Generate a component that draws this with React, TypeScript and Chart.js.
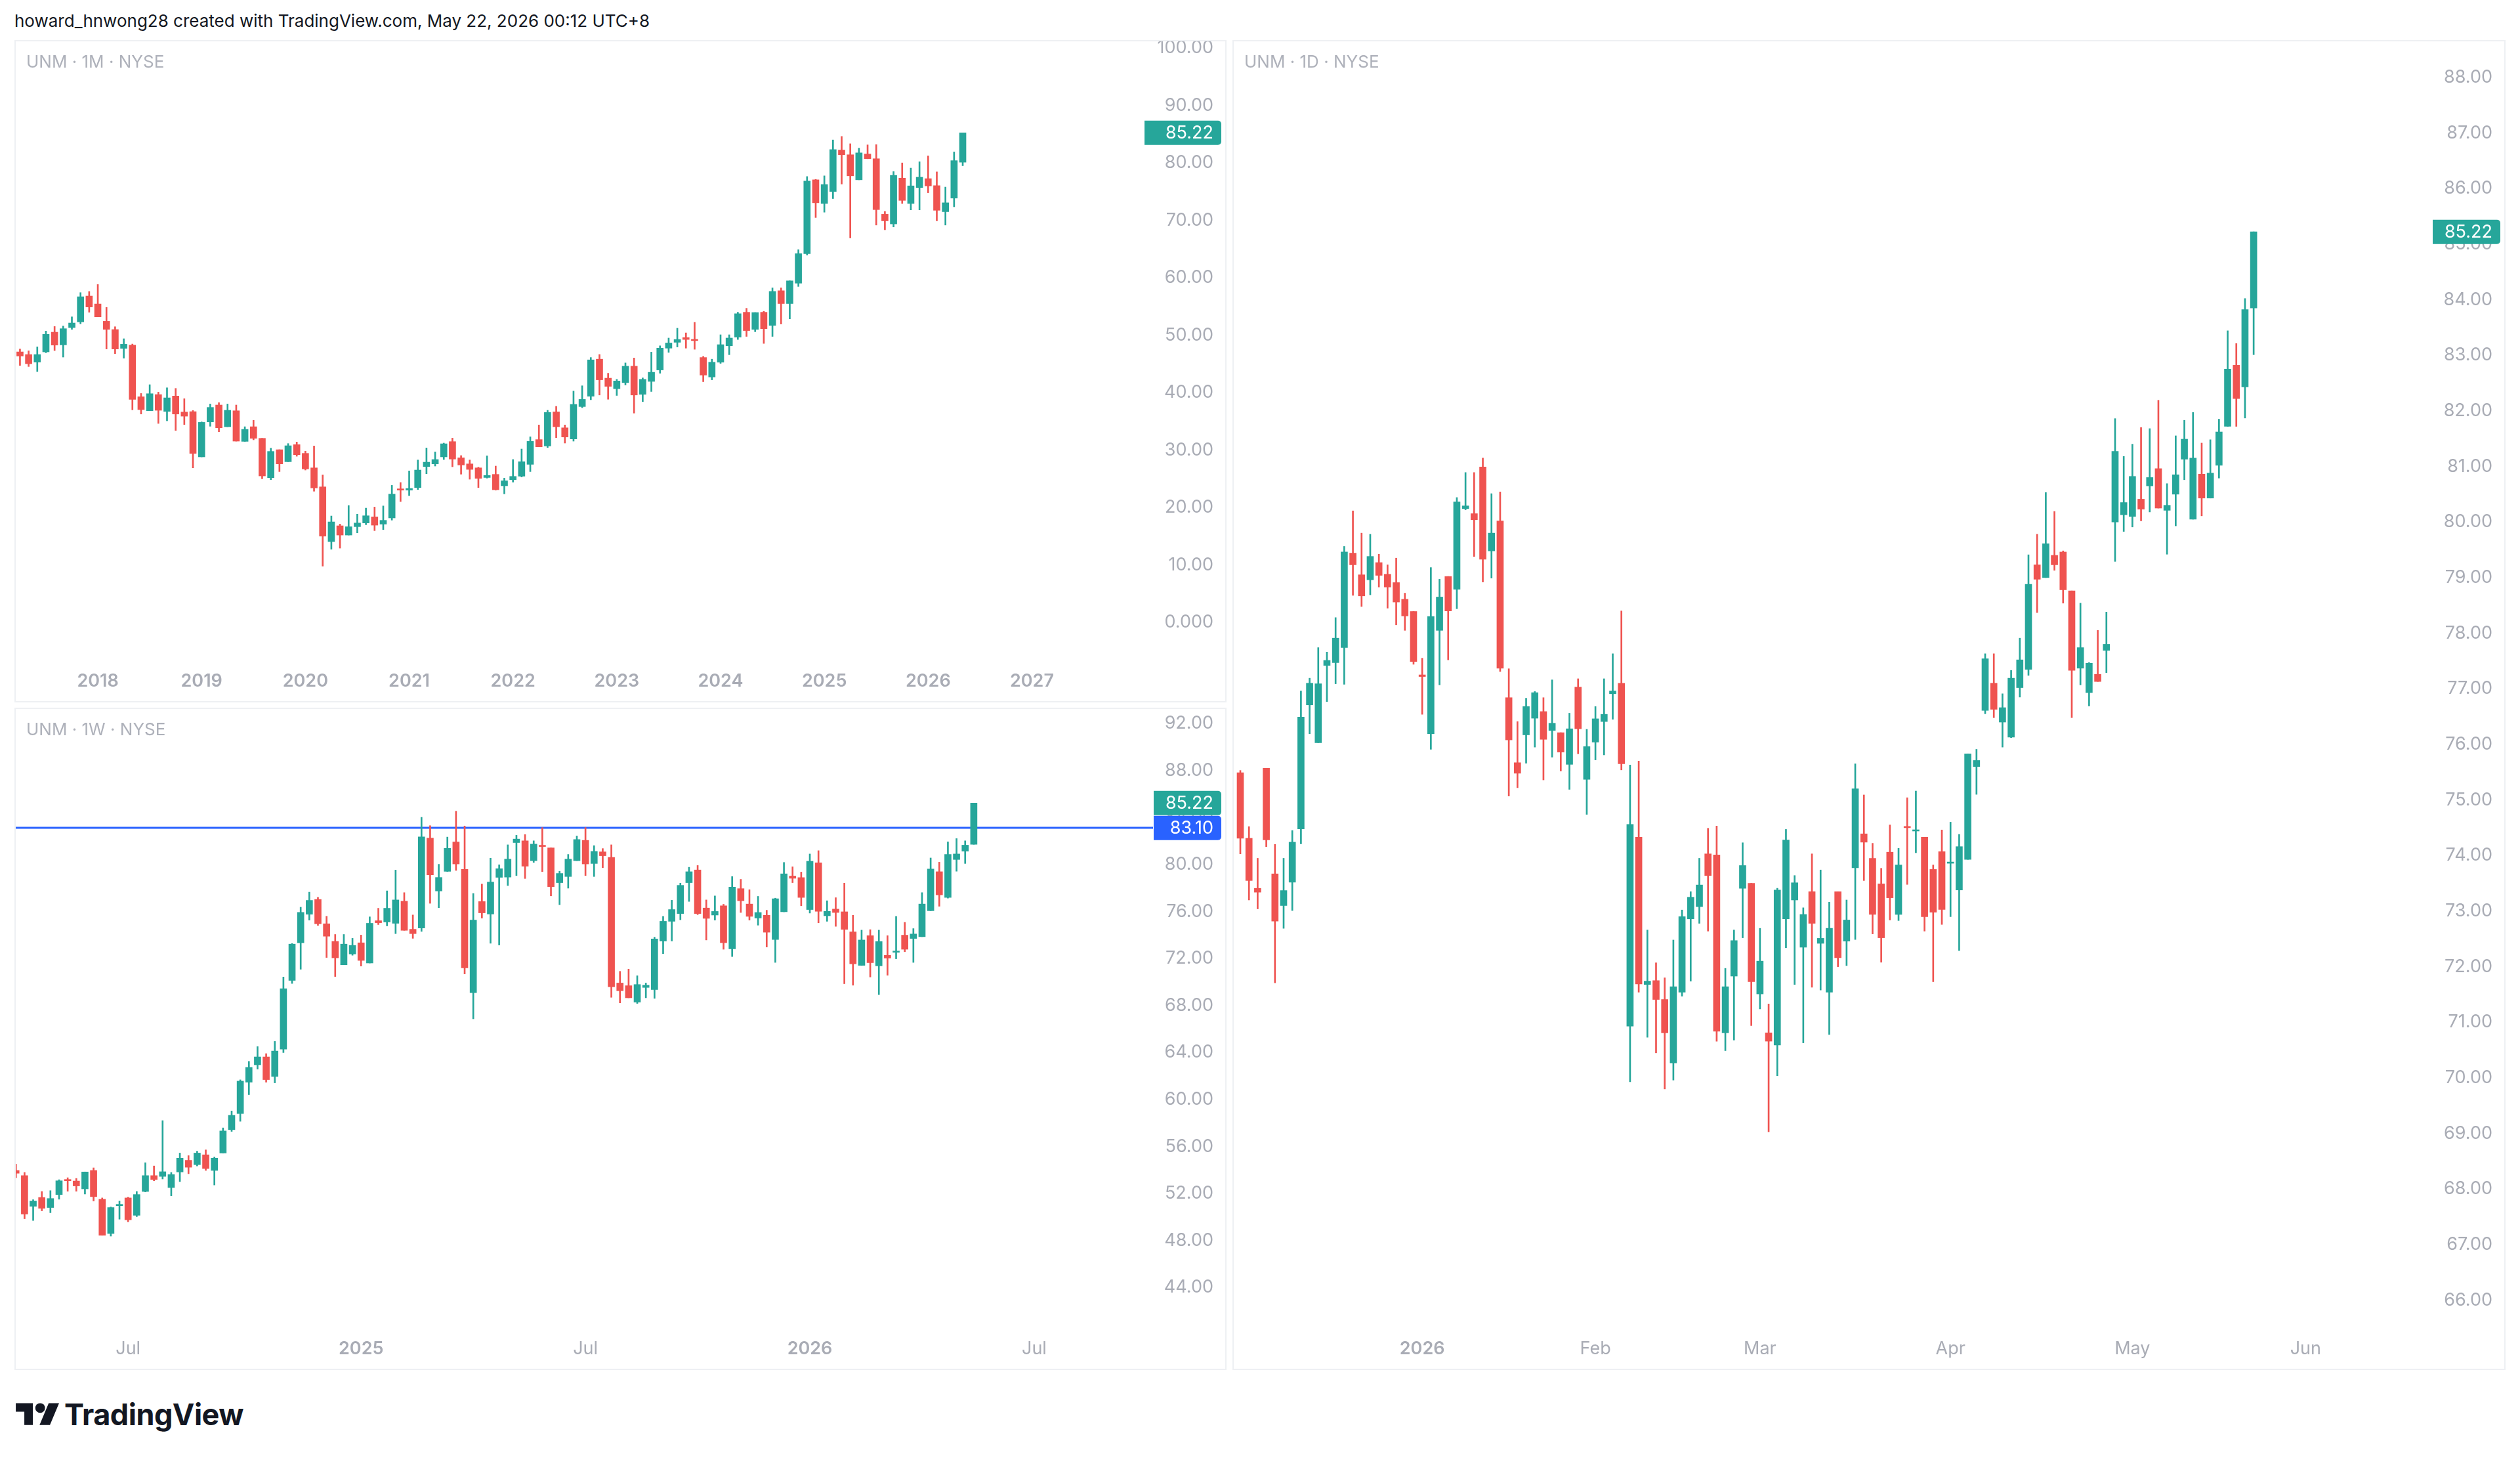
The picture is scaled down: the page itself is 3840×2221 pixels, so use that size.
import React, { useEffect, useRef } from 'react';
import { Chart, registerables } from 'chart.js';

Chart.register(...registerables);

const FONT = 'Inter, "Noto Sans", "DejaVu Sans", sans-serif';
const UP = '#26a69a';
const DOWN = '#ef5350';
const LINE_BLUE = '#2962ff';
const AXIS_TEXT = '#a9acb5';
const TICK_SIZE = 27;
const RIGHT_GAP = 20;

// ---------------- Monthly (Apr 2017 .. May 2026) ----------------
const monthlyOpen = [47.08, 46.62, 45.29, 47.08, 50.51, 48.3, 51.31, 52.3, 56.8, 55.42, 52.41, 50.97, 47.69, 48.26, 39.27, 36.83, 39.65, 36.72, 39.39, 36.61, 36.68, 28.8, 34.89, 37.83, 34.05, 36.83, 31.5, 34.05, 32.03, 25.18, 30.05, 27.96, 30.93, 29.41, 26.89, 23.58, 14.05, 16.8, 15.19, 16.65, 17.29, 18.36, 17.1, 18.17, 23.12, 23.01, 23.46, 27.12, 27.58, 28.8, 31.46, 28.64, 27.58, 26.89, 25.21, 25.75, 23.77, 24.83, 25.44, 27.5, 31.81, 30.7, 36.64, 33.86, 31.92, 37.56, 39.36, 45.81, 42.51, 40.67, 41.73, 44.59, 39.69, 41.94, 43.93, 47.73, 48.75, 49.57, 49.24, 46.1, 42.71, 45.28, 48.14, 49.65, 53.98, 50.99, 53.98, 51.69, 57.73, 55.49, 59.04, 64.18, 77.04, 72.91, 75.0, 82.22, 81.4, 77.04, 81.53, 80.71, 71.04, 69.36, 77.33, 72.91, 75.69, 77.24, 76.02, 71.49, 73.85, 80.1];
const monthlyHigh = [47.58, 47.27, 47.96, 50.7, 51.5, 51.58, 53.18, 57.4, 57.6, 58.81, 54.82, 51.46, 49.37, 48.45, 39.84, 41.37, 40.07, 40.83, 40.72, 38.93, 36.87, 34.89, 38.01, 38.24, 38.01, 37.83, 34.05, 35.16, 32.03, 30.32, 30.05, 31.12, 31.39, 29.79, 30.7, 25.67, 18.51, 17.1, 20.34, 18.82, 19.88, 20.07, 20.26, 23.84, 24.34, 26.36, 28.26, 30.36, 29.67, 31.2, 32.07, 29.03, 28.26, 27.01, 28.99, 27.2, 25.1, 28.34, 30.17, 32.3, 34.36, 36.91, 37.6, 34.36, 40.26, 41.18, 46.1, 46.63, 43.36, 42.3, 45.16, 46.02, 42.55, 47.04, 48.14, 49.49, 51.2, 50.39, 52.22, 46.3, 45.81, 50.06, 50.06, 53.98, 54.67, 53.93, 54.14, 58.22, 58.22, 59.45, 64.87, 77.61, 77.12, 77.73, 83.98, 84.59, 83.32, 82.55, 83.12, 83.16, 71.53, 78.47, 79.98, 79.08, 80.18, 81.2, 78.42, 75.77, 81.89, 85.22];
const monthlyLow = [44.72, 44.53, 43.65, 46.93, 47.31, 46.17, 51.0, 51.96, 53.98, 53.18, 47.58, 46.78, 45.98, 36.99, 36.26, 36.83, 34.62, 35.08, 33.4, 34.43, 26.89, 28.8, 34.13, 33.18, 34.05, 31.54, 31.5, 31.77, 24.99, 24.83, 26.24, 27.96, 28.91, 26.51, 22.82, 9.78, 12.72, 12.91, 15.19, 15.58, 16.99, 15.96, 16.15, 17.79, 21.02, 22.06, 23.12, 25.86, 27.2, 28.34, 27.08, 25.79, 24.91, 23.46, 25.1, 23.01, 22.36, 24.41, 25.29, 26.24, 30.55, 30.43, 32.15, 31.2, 31.54, 37.37, 38.75, 39.57, 38.83, 39.49, 41.32, 36.42, 38.42, 40.18, 43.36, 46.99, 47.93, 47.73, 47.53, 41.89, 42.22, 45.08, 46.59, 49.24, 49.77, 50.59, 48.55, 49.77, 51.93, 52.83, 58.47, 63.93, 70.47, 71.4, 73.77, 76.3, 66.91, 77.04, 80.71, 69.16, 68.34, 68.83, 72.91, 71.81, 71.81, 74.79, 69.89, 69.16, 72.34, 79.49];
const monthlyClose = [46.36, 45.02, 46.62, 50.13, 48.26, 51.12, 52.11, 56.68, 54.89, 53.18, 51.0, 47.58, 48.41, 38.81, 37.03, 39.8, 36.91, 39.08, 36.26, 35.88, 29.41, 34.81, 37.41, 33.86, 36.91, 31.54, 33.59, 32.03, 25.48, 29.75, 27.58, 30.74, 29.18, 26.7, 23.39, 15.0, 17.48, 15.19, 16.65, 17.29, 18.55, 16.91, 17.75, 22.32, 23.01, 23.31, 26.51, 27.88, 28.34, 31.08, 28.42, 27.39, 26.62, 25.06, 25.56, 23.08, 24.64, 25.4, 27.96, 31.5, 30.55, 36.53, 34.05, 32.26, 37.94, 38.81, 45.69, 42.22, 41.08, 42.02, 44.59, 39.57, 42.3, 43.53, 47.73, 48.63, 49.24, 49.24, 49.04, 43.04, 45.28, 48.34, 49.49, 53.73, 50.79, 53.93, 51.12, 57.61, 55.49, 59.45, 64.18, 76.83, 73.04, 76.22, 82.3, 81.4, 77.73, 81.73, 80.71, 71.85, 69.89, 77.81, 73.45, 75.98, 77.49, 75.98, 71.73, 73.04, 80.38, 85.22];
const monthlyTimeTickIdx = [9, 21, 33, 45, 57, 69, 81, 93, 105, 117];
const monthlyTimeTickLabels = ['2018', '2019', '2020', '2021', '2022', '2023', '2024', '2025', '2026', '2027'];
const monthlyPriceTicks = [0, 10, 20, 30, 40, 50, 60, 70, 80, 90, 100];

// ---------------- Weekly (Apr 2024 .. May 2026) ----------------
const weeklyOpen = [53.96, 53.52, 50.91, 51.66, 50.8, 51.91, 53.17, 53.06, 52.39, 53.96, 51.51, 48.59, 50.96, 51.62, 50.14, 52.17, 53.52, 53.45, 52.5, 53.83, 54.82, 54.45, 55.29, 53.96, 55.44, 57.43, 58.8, 61.47, 62.95, 63.62, 61.96, 64.28, 70.13, 73.33, 75.76, 77.02, 74.95, 73.45, 71.46, 72.38, 73.33, 71.61, 75.21, 75.1, 74.99, 76.87, 74.48, 74.59, 82.24, 77.74, 79.41, 81.91, 79.58, 69.09, 76.84, 75.78, 78.9, 78.92, 81.86, 82.01, 80.32, 81.6, 81.41, 78.45, 78.97, 80.32, 82.05, 80.08, 81.07, 80.6, 69.91, 69.68, 68.28, 69.53, 69.35, 73.48, 75.16, 75.82, 78.45, 79.53, 76.29, 75.69, 76.48, 72.82, 77.94, 76.63, 75.44, 75.67, 73.61, 75.97, 79.01, 78.88, 76.16, 80.14, 75.63, 76.2, 75.97, 74.26, 71.41, 73.94, 71.37, 72.26, 72.52, 73.98, 73.7, 73.85, 76.06, 79.38, 77.19, 80.42, 81.13, 81.71];
const weeklyHigh = [54.49, 53.79, 51.47, 52.17, 52.24, 53.17, 53.34, 53.28, 53.83, 54.18, 51.62, 50.85, 51.36, 51.69, 52.17, 54.62, 54.34, 58.2, 53.79, 55.44, 55.22, 55.6, 55.71, 55.11, 57.58, 59.02, 61.67, 63.24, 64.5, 63.9, 64.94, 70.42, 73.27, 76.36, 77.64, 77.2, 75.59, 74.04, 74.04, 73.71, 73.99, 75.54, 76.27, 77.75, 79.52, 77.6, 75.7, 84.01, 83.3, 80.01, 82.33, 84.53, 83.27, 77.53, 78.33, 80.53, 79.97, 81.67, 82.48, 82.54, 82.01, 83.14, 81.41, 79.42, 80.85, 82.42, 83.14, 81.6, 81.35, 81.67, 70.9, 71.09, 70.53, 69.91, 73.81, 75.58, 76.95, 78.41, 79.76, 79.91, 76.98, 77.32, 76.61, 78.97, 78.73, 77.85, 77.28, 76.1, 77.13, 80.17, 79.8, 79.35, 80.89, 81.17, 76.91, 77.17, 78.41, 75.67, 74.41, 74.45, 74.41, 73.94, 75.58, 75.07, 74.54, 77.6, 80.55, 80.19, 81.92, 82.2, 82.01, 85.22];
const weeklyLow = [53.34, 49.85, 49.7, 50.52, 50.36, 51.51, 52.19, 52.19, 51.95, 51.36, 48.44, 48.37, 49.81, 49.59, 50.03, 52.13, 53.08, 53.23, 51.8, 53.01, 53.68, 54.34, 53.96, 52.72, 55.44, 57.28, 58.14, 60.41, 62.58, 61.47, 61.41, 63.99, 69.87, 71.08, 75.26, 74.81, 72.08, 70.46, 71.46, 72.27, 71.35, 71.61, 74.88, 74.77, 74.11, 74.39, 73.71, 74.3, 76.69, 76.32, 79.4, 79.49, 70.68, 66.86, 75.43, 73.29, 73.14, 78.2, 79.05, 78.8, 80.17, 79.39, 77.32, 76.57, 77.98, 80.32, 79.05, 78.97, 79.72, 68.69, 68.22, 68.65, 68.17, 68.65, 68.6, 72.41, 73.48, 75.29, 76.85, 75.73, 73.57, 75.26, 72.78, 72.16, 75.91, 75.26, 74.83, 72.97, 71.66, 75.97, 78.45, 76.48, 75.86, 75.03, 75.16, 74.73, 69.85, 69.72, 71.41, 70.42, 68.92, 70.57, 71.97, 72.57, 71.66, 73.85, 76.06, 76.44, 77.13, 79.42, 80.08, 81.71];
const weeklyClose = [53.72, 50.25, 51.36, 50.74, 51.57, 53.08, 53.08, 52.64, 53.83, 51.73, 48.44, 50.8, 51.05, 49.76, 51.91, 53.52, 53.19, 53.85, 53.61, 55.0, 54.23, 55.44, 54.12, 55.0, 57.32, 58.65, 61.56, 62.73, 63.62, 61.69, 64.12, 69.43, 73.22, 75.92, 76.94, 74.95, 73.89, 72.05, 73.22, 73.11, 71.83, 74.99, 75.04, 76.27, 76.98, 74.39, 74.11, 82.34, 79.11, 78.89, 81.37, 80.04, 71.19, 75.26, 75.88, 78.5, 79.64, 80.45, 82.16, 79.85, 81.73, 81.52, 78.11, 79.23, 80.45, 82.12, 80.04, 81.11, 80.74, 69.59, 69.25, 68.65, 69.78, 69.72, 73.66, 75.16, 76.16, 78.22, 79.38, 75.82, 75.41, 76.0, 73.34, 78.07, 76.91, 75.58, 75.91, 74.23, 77.08, 79.2, 78.82, 77.19, 80.27, 76.01, 76.01, 75.91, 74.47, 71.54, 73.57, 71.64, 73.44, 72.03, 72.54, 72.78, 74.08, 76.63, 79.61, 77.41, 80.85, 80.89, 81.64, 85.22];
const weeklyLineLevel = 83.1;
const weeklyTimeTickIdx = [13, 40, 66, 92, 118];
const weeklyTimeTickLabels = ['Jul', '2025', 'Jul', '2026', 'Jul'];
const weeklyPriceTicks = [44, 48, 52, 56, 60, 64, 68, 72, 76, 80, 84, 88, 92];

// ---------------- Daily (Dec 2025 .. May 21 2026) ----------------
const dailyOpen = [75.49, 74.31, 73.41, 75.57, 73.67, 73.1, 73.52, 74.48, 76.71, 76.03, 77.42, 77.47, 77.74, 79.44, 79.05, 78.96, 79.27, 79.06, 78.91, 78.61, 78.39, 77.25, 76.19, 78.05, 79.02, 78.79, 80.24, 80.15, 80.99, 79.48, 80.02, 76.84, 75.67, 76.17, 76.47, 76.59, 76.25, 76.21, 75.64, 77.03, 75.37, 76.04, 76.41, 76.91, 77.1, 70.93, 74.33, 71.68, 71.75, 71.41, 70.27, 71.54, 72.86, 73.08, 74.03, 74.01, 70.81, 71.83, 73.41, 73.5, 71.51, 70.81, 70.59, 72.86, 73.2, 72.35, 73.35, 72.42, 71.54, 73.35, 72.46, 73.78, 74.39, 73.95, 73.49, 74.06, 72.94, 74.52, 74.44, 74.33, 73.75, 74.07, 73.86, 73.38, 73.93, 75.6, 76.61, 77.1, 76.4, 76.13, 77.02, 77.35, 79.23, 79.0, 79.4, 79.46, 78.76, 77.37, 76.93, 77.26, 77.69, 80.0, 80.13, 80.1, 80.41, 80.65, 80.96, 80.21, 80.5, 81.13, 80.05, 80.86, 80.43, 81.02, 81.72, 82.82, 82.43, 83.85];
const dailyHigh = [75.53, 74.52, 73.95, 75.57, 74.2, 73.95, 74.45, 76.96, 77.19, 77.74, 77.66, 78.28, 79.56, 80.2, 79.8, 79.78, 79.42, 79.23, 79.35, 78.72, 78.39, 77.55, 79.18, 78.97, 79.02, 80.44, 80.89, 80.89, 81.15, 80.51, 80.54, 77.36, 76.41, 76.83, 76.95, 76.84, 77.16, 76.21, 76.56, 77.18, 76.27, 76.68, 77.18, 77.63, 78.4, 75.63, 75.7, 72.66, 72.07, 71.8, 72.48, 73.02, 73.35, 73.95, 74.49, 74.53, 71.97, 72.66, 74.23, 73.5, 72.69, 71.33, 73.41, 74.47, 73.64, 73.06, 74.03, 73.74, 73.16, 73.35, 73.2, 75.65, 75.09, 74.22, 73.77, 74.55, 74.13, 75.04, 75.16, 74.33, 73.83, 74.46, 74.6, 74.38, 75.83, 75.91, 77.63, 77.63, 76.91, 77.33, 77.91, 79.41, 79.78, 80.53, 80.19, 79.48, 78.76, 78.54, 77.47, 78.05, 78.38, 81.86, 81.18, 81.4, 81.7, 81.68, 82.19, 80.69, 81.55, 81.83, 81.97, 81.42, 81.48, 81.85, 83.44, 83.21, 84.02, 85.22];
const dailyLow = [74.03, 73.2, 73.04, 74.16, 71.71, 72.69, 73.01, 74.21, 76.19, 76.03, 76.77, 77.09, 77.08, 78.68, 78.48, 78.69, 78.83, 78.45, 78.15, 78.05, 77.44, 76.54, 75.91, 77.07, 77.52, 78.44, 80.22, 79.38, 78.92, 78.99, 77.31, 75.07, 75.22, 75.66, 75.95, 75.36, 75.77, 75.52, 75.19, 75.83, 74.74, 75.72, 75.81, 76.45, 75.54, 69.93, 71.54, 70.73, 70.45, 69.8, 69.96, 71.47, 71.74, 72.78, 72.64, 70.66, 70.49, 70.68, 72.52, 70.94, 71.24, 69.03, 70.04, 72.34, 71.68, 70.63, 71.63, 71.58, 70.78, 72.0, 72.02, 72.49, 73.55, 72.59, 72.08, 72.84, 72.83, 73.48, 74.05, 72.64, 71.73, 72.76, 72.9, 72.29, 73.93, 75.1, 76.55, 76.48, 75.95, 76.12, 76.85, 77.24, 78.37, 79.0, 79.13, 78.54, 76.48, 77.07, 76.69, 77.13, 77.29, 79.29, 79.83, 79.91, 80.02, 80.18, 80.25, 79.42, 79.93, 80.76, 80.05, 80.11, 80.43, 80.79, 81.72, 81.72, 81.87, 83.01];
const dailyClose = [74.31, 73.55, 73.34, 74.28, 72.82, 73.37, 74.24, 76.49, 77.1, 77.09, 77.51, 77.91, 79.46, 79.23, 78.67, 79.38, 79.04, 78.83, 78.56, 78.31, 77.49, 77.22, 78.3, 78.65, 78.4, 80.36, 80.29, 80.04, 79.33, 79.8, 77.37, 76.08, 75.48, 76.68, 76.93, 76.09, 76.38, 75.86, 76.28, 76.28, 75.96, 76.46, 76.54, 76.96, 75.65, 74.56, 71.69, 71.74, 71.41, 70.81, 71.64, 72.9, 73.25, 73.47, 73.64, 70.84, 71.64, 72.47, 73.82, 71.73, 72.1, 70.66, 73.38, 74.28, 73.51, 72.94, 72.78, 72.51, 72.69, 72.16, 72.84, 75.2, 74.24, 72.94, 72.52, 73.24, 73.83, 74.5, 74.46, 72.9, 72.98, 73.03, 73.88, 74.16, 75.83, 75.71, 77.54, 76.63, 76.66, 77.19, 77.52, 78.88, 78.97, 79.61, 79.23, 78.78, 77.33, 77.74, 77.46, 77.13, 77.8, 81.27, 80.35, 80.82, 80.23, 80.8, 80.25, 80.3, 80.85, 81.49, 81.15, 80.43, 80.88, 81.62, 82.75, 82.22, 83.82, 85.22];
const dailyTimeTickIdx = [21, 41, 60, 82, 103, 123];
const dailyTimeTickLabels = ['2026', 'Feb', 'Mar', 'Apr', 'May', 'Jun'];
const dailyPriceTicks = [66, 67, 68, 69, 70, 71, 72, 73, 74, 75, 76, 77, 78, 79, 80, 81, 82, 83, 84, 85, 86, 87, 88];

const fmtPrice = (v: number) => (v === 0 ? '0.000' : v.toFixed(2));

type Tag = { value: number; color: string };
type PanelProps = {
  title: string;
  left: number; top: number; width: number; height: number;
  axisWidth: number;
  xMin: number; xMax: number; yMin: number; yMax: number;
  open: number[]; high: number[]; low: number[]; close: number[];
  timeTickIdx: number[]; timeTickLabels: string[];
  priceTicks: number[];
  tags: Tag[];
  lines: Tag[];
};

function CandlePanel(p: PanelProps) {
  const ref = useRef<HTMLCanvasElement>(null);
  useEffect(() => {
    const canvas = ref.current;
    if (!canvas) return;
    const colors = p.open.map((o, i) => (p.close[i] >= o ? UP : DOWN));
    const bodies = p.open.map((o, i) => ({ x: i, y: [o, p.close[i]] }));
    const wicks = p.open.map((_, i) => ({ x: i, y: [p.low[i], p.high[i]] }));

    const overlay = {
      id: 'overlay',
      beforeDatasetsDraw(chart: any) {
        const { ctx, chartArea, scales } = chart;
        p.lines.forEach((l) => {
          const py = Math.round(scales.y.getPixelForValue(l.value));
          ctx.save();
          ctx.strokeStyle = l.color;
          ctx.lineWidth = 3;
          ctx.beginPath();
          ctx.moveTo(0, py);
          ctx.lineTo(chartArea.right, py);
          ctx.stroke();
          ctx.restore();
        });
      },
      afterDraw(chart: any) {
        const { ctx, scales } = chart;
        const y = scales.y;
        p.tags.forEach((t) => {
          const py = y.getPixelForValue(t.value);
          const x0 = y.left + 1;
          const x1 = chart.width - 8;
          const h = 37;
          ctx.save();
          ctx.fillStyle = t.color;
          ctx.beginPath();
          ctx.roundRect(x0, py - h / 2, x1 - x0, h, [0, 5, 5, 0]);
          ctx.fill();
          ctx.fillStyle = '#ffffff';
          ctx.font = `normal 400 ${TICK_SIZE}px ${FONT}`;
          ctx.textAlign = 'right';
          ctx.textBaseline = 'middle';
          ctx.fillText(fmtPrice(t.value), chart.width - RIGHT_GAP, py + 1);
          ctx.restore();
        });
      },
    };

    const chart = new Chart(canvas, {
      type: 'bar',
      data: {
        datasets: [
          { data: bodies as any, backgroundColor: colors, barThickness: 10, minBarLength: 2, grouped: false, order: 1, borderWidth: 0 },
          { data: wicks as any, backgroundColor: colors, barThickness: 2, grouped: false, order: 2, borderWidth: 0 },
        ],
      },
      options: {
        animation: false,
        responsive: false,
        events: [],
        layout: { padding: { left: 0, top: 0, bottom: 0, right: RIGHT_GAP } },
        plugins: { legend: { display: false }, tooltip: { enabled: false }, title: { display: false } },
        scales: {
          x: {
            type: 'linear',
            min: p.xMin,
            max: p.xMax,
            bounds: 'data',
            offset: false,
            grid: { display: false, drawTicks: false },
            border: { display: false },
            afterBuildTicks: (s: any) => {
              s.ticks = p.timeTickIdx.map((v) => ({ value: v }));
            },
            afterFit: (s: any) => {
              s.height = 64;
              s.paddingLeft = 0;
              s.paddingRight = 0;
            },
            ticks: {
              autoSkip: false,
              maxRotation: 0,
              minRotation: 0,
              padding: 16,
              color: AXIS_TEXT,
              font: (ctx: any) => ({
                family: FONT,
                size: TICK_SIZE,
                weight: /^\d{4}$/.test(p.timeTickLabels[ctx.index] || '') ? '600' : '400',
              }),
              callback: (_v: any, i: number) => p.timeTickLabels[i] ?? '',
            },
          },
          y: {
            type: 'linear',
            position: 'right',
            min: p.yMin,
            max: p.yMax,
            bounds: 'data',
            beginAtZero: false,
            grid: { display: false, drawTicks: false },
            border: { display: false },
            afterBuildTicks: (s: any) => {
              s.ticks = p.priceTicks.map((v) => ({ value: v }));
            },
            afterFit: (s: any) => {
              s.width = p.axisWidth - RIGHT_GAP;
              s.paddingTop = 0;
              s.paddingBottom = 0;
            },
            ticks: {
              crossAlign: 'far',
              padding: 0,
              color: AXIS_TEXT,
              font: { family: FONT, size: TICK_SIZE, weight: '400' },
              callback: (v: any) => fmtPrice(Number(v)),
            },
          },
        },
      } as any,
      plugins: [overlay],
    });
    return () => chart.destroy();
  }, []);

  return (
    <div
      style={{
        position: 'absolute',
        left: p.left,
        top: p.top,
        width: p.width,
        height: p.height,
      }}
    >
      <canvas ref={ref} width={p.width} height={p.height} style={{ width: p.width, height: p.height, display: 'block' }} />
      <div
        style={{
          position: 'absolute',
          left: 18,
          top: 17,
          fontFamily: FONT,
          fontSize: 26,
          lineHeight: '32px',
          color: '#aeb1ba',
          whiteSpace: 'nowrap',
        }}
      >
        {p.title}
      </div>
      <div
        style={{
          position: 'absolute',
          inset: 0,
          border: '2px solid #eef0f3',
          pointerEvents: 'none',
        }}
      />
    </div>
  );
}

function TvLogo() {
  return (
    <svg width={67} height={52} viewBox="0 0 36 28" style={{ position: 'absolute', left: 24, top: 2130 }}>
      <path d="M14 22H7V11H0V4h14v18z" fill="#131722" />
      <circle cx="20" cy="8" r="4" fill="#131722" />
      <path d="M28 22h-8.5l7.5-18h8.5L28 22z" fill="#131722" />
    </svg>
  );
}

export default function App() {
  const mLast = monthlyClose[monthlyClose.length - 1];
  const wLast = weeklyClose[weeklyClose.length - 1];
  const dLast = dailyClose[dailyClose.length - 1];
  return (
    <div style={{ position: 'absolute', left: 0, top: 0, width: 3840, height: 2221, background: '#ffffff', overflow: 'hidden' }}>
      <div
        style={{
          position: 'absolute',
          left: 22,
          top: 16,
          fontFamily: FONT,
          fontSize: 26,
          lineHeight: '32px',
          color: '#131722',
          whiteSpace: 'nowrap',
        }}
      >
        howard_hnwong28 created with TradingView.com, May 22, 2026 00:12 UTC+8
      </div>

      <CandlePanel
        title="UNM · 1M · NYSE"
        left={22} top={61} width={1847} height={1009} axisWidth={126}
        xMin={-0.64} xMax={129.94} yMin={-6.63} yMax={101.37}
        open={monthlyOpen} high={monthlyHigh} low={monthlyLow} close={monthlyClose}
        timeTickIdx={monthlyTimeTickIdx} timeTickLabels={monthlyTimeTickLabels}
        priceTicks={monthlyPriceTicks}
        tags={[{ value: mLast, color: UP }]}
        lines={[]}
      />
      <CandlePanel
        title="UNM · 1W · NYSE"
        left={22} top={1078} width={1847} height={1009} axisWidth={112}
        xMin={-0.17} xMax={131.77} yMin={40.55} yMax={93.34}
        open={weeklyOpen} high={weeklyHigh} low={weeklyLow} close={weeklyClose}
        timeTickIdx={weeklyTimeTickIdx} timeTickLabels={weeklyTimeTickLabels}
        priceTicks={weeklyPriceTicks}
        tags={[{ value: wLast, color: UP }, { value: weeklyLineLevel, color: LINE_BLUE }]}
        lines={[{ value: weeklyLineLevel, color: LINE_BLUE }]}
      />
      <CandlePanel
        title="UNM · 1D · NYSE"
        left={1878} top={61} width={1940} height={2026} axisWidth={112}
        xMin={-0.91} xMax={137.6} yMin={65.5} yMax={88.67}
        open={dailyOpen} high={dailyHigh} low={dailyLow} close={dailyClose}
        timeTickIdx={dailyTimeTickIdx} timeTickLabels={dailyTimeTickLabels}
        priceTicks={dailyPriceTicks}
        tags={[{ value: dLast, color: UP }]}
        lines={[]}
      />

      <TvLogo />
      <div
        style={{
          position: 'absolute',
          left: 98,
          top: 2128,
          fontFamily: FONT,
          fontSize: 45,
          fontWeight: 700,
          lineHeight: '54px',
          letterSpacing: '-0.5px',
          color: '#131722',
          whiteSpace: 'nowrap',
        }}
      >
        TradingView
      </div>
    </div>
  );
}
